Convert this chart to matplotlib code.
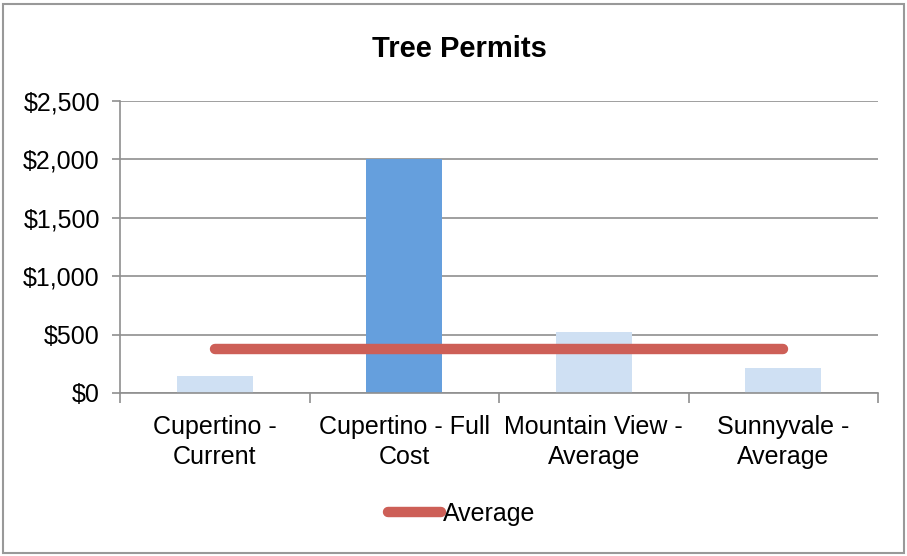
import matplotlib
matplotlib.use("Agg")
import matplotlib.pyplot as plt
from matplotlib.patches import Rectangle
from matplotlib.ticker import FuncFormatter, NullFormatter

categories = ["Cupertino -\nCurrent", "Cupertino - Full\nCost", "Mountain View -\nAverage", "Sunnyvale -\nAverage"]
values = [148, 2000, 525, 218]
average = [378, 378, 378, 378]
bar_colors = ["#CFE0F3", "#659FDD", "#CFE0F3", "#CFE0F3"]
yticks = [0, 500, 1000, 1500, 2000, 2500]

plt.rcParams['font.family'] = ['Liberation Sans', 'DejaVu Sans']

fig = plt.figure(figsize=(9.07, 5.56), dpi=100)
fig.patches.append(Rectangle((3/907, 3/556), 901/907, 549/556, transform=fig.transFigure,
                             fill=False, edgecolor="#999999", linewidth=1.5))

ax = fig.add_axes([120/907, 1-393/556, 758/907, 292/556])
x = list(range(len(categories)))
ax.bar(x, values, width=0.4, color=bar_colors, zorder=2)
ax.plot(x, average, color="#CD5F57", linewidth=7.5, solid_capstyle="round", zorder=3, label="Average")

ax.set_xlim(-0.5, 3.5)
ax.set_ylim(0, 2500)
ax.set_yticks(yticks)
ax.yaxis.set_major_formatter(FuncFormatter(lambda v, p: "${:,.0f}".format(v)))
ax.grid(axis="y", color="#8f8f8f", linewidth=1.2, zorder=0)
ax.set_axisbelow(True)

ax.set_xticks([-0.5, 0.5, 1.5, 2.5, 3.5])
ax.xaxis.set_major_formatter(NullFormatter())
ax.set_xticks(x, minor=True)
ax.set_xticklabels(categories, minor=True, fontsize=18, linespacing=1.3)
ax.tick_params(axis="x", which="minor", length=0, pad=16)
ax.tick_params(axis="x", which="major", length=7, color="#8f8f8f", width=1.2)
ax.tick_params(axis="y", length=6, color="#8f8f8f", width=1.2, labelsize=18, pad=8.5)

for s in ["top", "right"]:
    ax.spines[s].set_visible(False)
for s in ["left", "bottom"]:
    ax.spines[s].set_color("#8f8f8f")
    ax.spines[s].set_linewidth(1.2)

fig.text(459/907, 1-49/556, "Tree Permits", ha="center", va="center", fontsize=21, fontweight="bold")

fig.legend(loc="center", bbox_to_anchor=(462/907, 1-514/556), frameon=False, fontsize=18,
           handlelength=2.1, handletextpad=0.1)

fig.savefig("out.png", dpi=100)
